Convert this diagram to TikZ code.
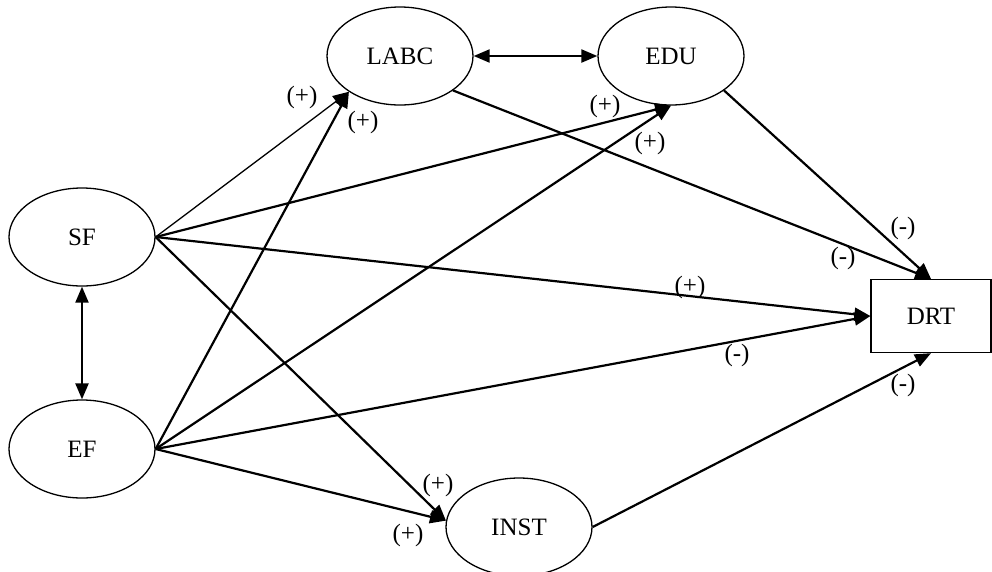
\documentclass[tikz,border=0pt]{standalone}
\usepackage{fontspec}
\setmainfont{Liberation Serif}
\usetikzlibrary{arrows.meta,shapes.geometric}
\begin{document}
\begin{tikzpicture}[x=1pt,y=-1pt,
  latent/.style={ellipse,draw,line width=1.3pt,minimum width=146pt,minimum height=98pt,inner sep=0pt,font=\fontsize{25}{29}\selectfont},
  obs/.style={rectangle,draw,line width=1.3pt,minimum width=120pt,minimum height=73pt,inner sep=0pt,font=\fontsize{25}{29}\selectfont},
  lab/.style={inner sep=0pt,font=\fontsize{25}{29}\selectfont},
  path/.style={line width=2.2pt,-{Triangle[length=16pt,width=13pt]}},
  thinpath/.style={line width=1.3pt,-{Triangle[length=16pt,width=13pt]}},
  both/.style={line width=2.2pt,{Triangle[length=16pt,width=13pt]}-{Triangle[length=16pt,width=13pt]}}]
\useasboundingbox (0,0) rectangle (992,571);
\node[latent] (LABC) at (400,56) {LABC};
\node[latent] (EDU) at (671,56) {EDU};
\node[latent] (SF) at (82,237) {SF};
\node[latent] (EF) at (82,449) {EF};
\node[latent] (INST) at (519,527) {INST};
\node[obs] (DRT) at (931,316) {DRT};

\draw[both] (LABC.east) -- (EDU.west);
\draw[both] (SF.south) -- (EF.north);

\draw[thinpath] (SF.east) -- (LABC.215);
\draw[path] (EF.east) -- (LABC.215);
\draw[path] (SF.east) -- (EDU.south);
\draw[path] (EF.east) -- (EDU.south);
\draw[path] (SF.east) -- (DRT.west);
\draw[path] (EF.east) -- (DRT.west);
\draw[path] (SF.east) -- (INST.175);
\draw[path] (EF.east) -- (INST.175);
\draw[path] (LABC.-33) -- (DRT.north);
\draw[path] (EDU.-33) -- (DRT.north);
\draw[path] (INST.east) -- (DRT.south);

\node[lab] (l1) at (302,97) {(+)};
\node[lab] (l2) at (363,122) {(+)};
\node[lab] (l3) at (605,106) {(+)};
\node[lab] (l4) at (650,143) {(+)};
\node[lab] (l5) at (903,228) {(-)};
\node[lab] (l6) at (843,258) {(-)};
\node[lab] (l7) at (690,287) {(+)};
\node[lab] (l8) at (737,355) {(-)};
\node[lab] (l9) at (903,385) {(-)};
\node[lab] (l10) at (438,485) {(+)};
\node[lab] (l11) at (408,535) {(+)};
\end{tikzpicture}
\end{document}
